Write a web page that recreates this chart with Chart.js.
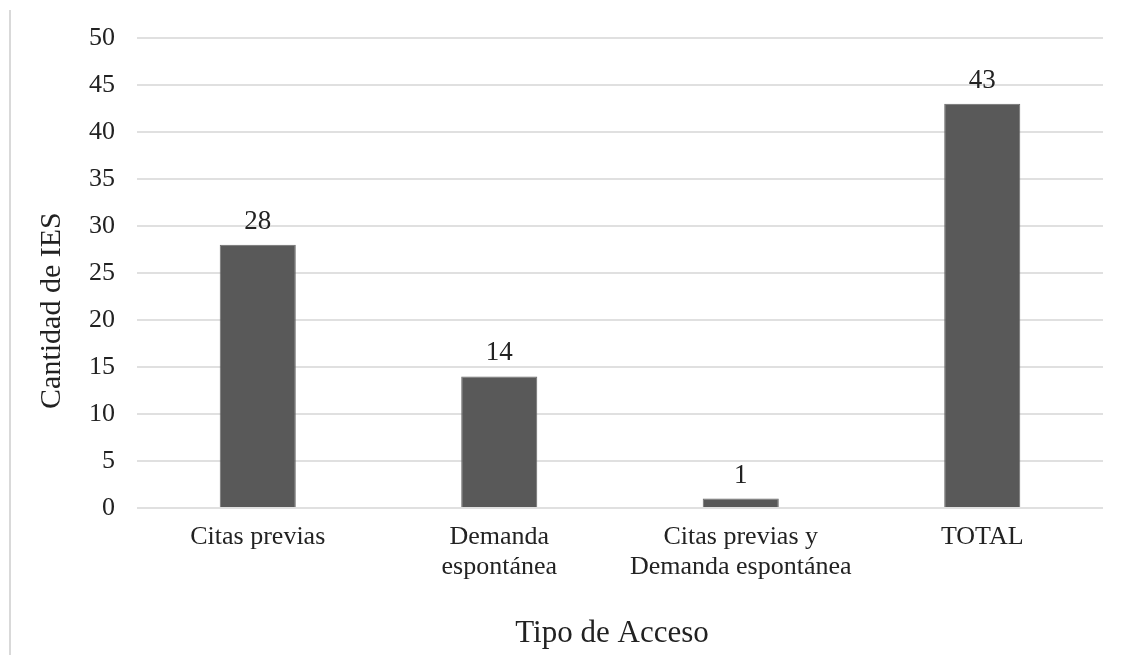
<!DOCTYPE html>
<html>
<head>
<meta charset="utf-8">
<script src="https://cdn.jsdelivr.net/npm/chart.js@4.4.0/dist/chart.umd.min.js"></script>
<style>
html,body{margin:0;padding:0;background:#fff;}
#wrap{position:relative;width:1123px;height:655px;}
#edge{position:absolute;left:9px;top:10px;width:0;height:645px;border-left:2px solid #d9d9d9;}
canvas{position:absolute;left:0;top:0;}
</style>
</head>
<body>
<div id="wrap"><div id="edge"></div><canvas id="c" width="1123" height="655"></canvas></div>
<script>
const categories = [["Citas previas"], ["Demanda", "espontánea"], ["Citas previas y", "Demanda espontánea"], ["TOTAL"]];
const values = [28, 14, 1, 43];
const yTicks = [0, 5, 10, 15, 20, 25, 30, 35, 40, 45, 50];
const yTitle = "Cantidad de IES";
const xTitle = "Tipo de Acceso";

const FONT = "'Liberation Serif', 'Times New Roman', serif";
const TEXT = "#222222";

const dataLabels = {
  id: 'dataLabels',
  afterDatasetsDraw(chart) {
    const ctx = chart.ctx;
    const meta = chart.getDatasetMeta(0);
    ctx.save();
    ctx.font = "27px " + FONT;
    ctx.fillStyle = TEXT;
    ctx.textAlign = 'center';
    ctx.textBaseline = 'alphabetic';
    meta.data.forEach((bar, i) => {
      ctx.fillText(String(values[i]), bar.x, bar.y - 16);
    });
    ctx.restore();
  }
};

const axisTitles = {
  id: 'axisTitles',
  afterDraw(chart) {
    const ctx = chart.ctx;
    const a = chart.chartArea;
    ctx.save();
    ctx.fillStyle = TEXT;
    ctx.textAlign = 'center';
    ctx.textBaseline = 'middle';
    // y title
    ctx.font = "30px " + FONT;
    ctx.translate(a.left - 85, a.top + (a.bottom - a.top) * 0.58);
    ctx.rotate(-Math.PI / 2);
    ctx.fillText(yTitle, 0, 0);
    ctx.restore();
    ctx.save();
    ctx.fillStyle = TEXT;
    ctx.textAlign = 'center';
    ctx.textBaseline = 'middle';
    ctx.font = "31px " + FONT;
    ctx.fillText(xTitle, (a.left + a.right) / 2 - 8, a.bottom + 126);
    ctx.restore();
  }
};

new Chart(document.getElementById('c'), {
  type: 'bar',
  data: {
    labels: categories,
    datasets: [{
      data: values,
      backgroundColor: '#595959',
      borderColor: '#6a6a6a',
      borderWidth: 1,
      barPercentage: 0.315,
      categoryPercentage: 1.0
    }]
  },
  options: {
    responsive: false,
    animation: false,
    devicePixelRatio: 1,
    layout: { padding: { left: 0, right: 20, top: 38, bottom: 0 } },
    plugins: { legend: { display: false }, tooltip: { enabled: false } },
    scales: {
      x: {
        grid: { display: false, drawTicks: false },
        border: { display: false },
        ticks: { color: TEXT, font: { family: FONT, size: 26, lineHeight: 1.15 }, padding: 14, maxRotation: 0, autoSkip: false },
        title: { display: false },
        afterFit(scale) { scale.height = 147; }
      },
      y: {
        min: 0, max: 50,
        afterBuildTicks(scale) { scale.ticks = yTicks.map(v => ({ value: v })); },
        grid: { color: '#e0e0e0', lineWidth: 2, drawTicks: false },
        border: { display: false },
        ticks: { color: TEXT, font: { family: FONT, size: 26 }, padding: 22 },
        title: { display: false },
        afterFit(scale) { scale.width = 137; }
      }
    }
  },
  plugins: [dataLabels, axisTitles]
});
</script>
</body>
</html>
